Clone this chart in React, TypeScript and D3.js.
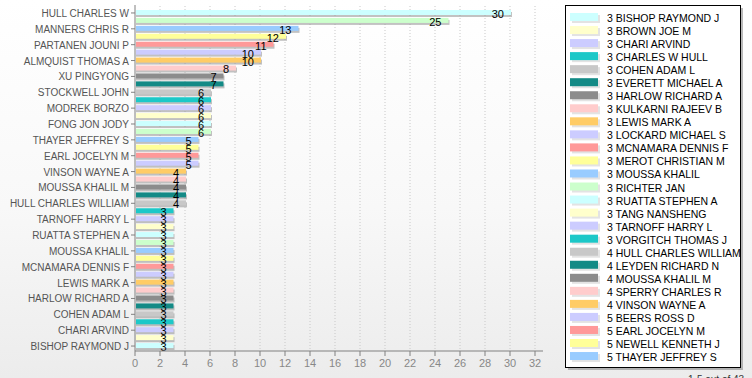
import React from "react";
import * as d3 from "d3";

// bottom-to-top order (legend order)
const names: string[] = [
  "BISHOP RAYMOND J", "BROWN JOE M", "CHARI ARVIND", "CHARLES W HULL", "COHEN ADAM L",
  "EVERETT MICHAEL A", "HARLOW RICHARD A", "KULKARNI RAJEEV B", "LEWIS MARK A", "LOCKARD MICHAEL S",
  "MCNAMARA DENNIS F", "MEROT CHRISTIAN M", "MOUSSA KHALIL", "RICHTER JAN", "RUATTA STEPHEN A",
  "TANG NANSHENG", "TARNOFF HARRY L", "VORGITCH THOMAS J", "HULL CHARLES WILLIAM", "LEYDEN RICHARD N",
  "MOUSSA KHALIL M", "SPERRY CHARLES R", "VINSON WAYNE A", "BEERS ROSS D", "EARL JOCELYN M",
  "NEWELL KENNETH J", "THAYER JEFFREY S", "(unlabeled 28)", "FONG JON JODY", "(unlabeled 30)",
  "MODREK BORZO", "(unlabeled 32)", "STOCKWELL JOHN", "(unlabeled 34)", "XU PINGYONG",
  "(unlabeled 36)", "ALMQUIST THOMAS A", "(unlabeled 38)", "PARTANEN JOUNI P", "(unlabeled 40)",
  "MANNERS CHRIS R", "(unlabeled 42)", "HULL CHARLES W",
];
const values: number[] = [
  3, 3, 3, 3, 3, 3, 3, 3, 3, 3, 3, 3, 3, 3, 3, 3, 3, 3,
  4, 4, 4, 4, 4,
  5, 5, 5, 5,
  6, 6, 6, 6, 6, 6,
  7, 7, 8, 10, 10, 11, 12, 13, 25, 30,
];
const legendCount = 27;
const xTicks: number[] = [0, 2, 4, 6, 8, 10, 12, 14, 16, 18, 20, 22, 24, 26, 28, 30, 32];
const palette: string[] = [
  "#ccffff", "#ffffcc", "#ccccff", "#1cc8c8", "#c8c8c8", "#138a86", "#8c8c8c",
  "#ffcccc", "#ffcc66", "#ccccff", "#ff9999", "#ffff99", "#99ccff", "#ccffcc",
];

const W = 752, H = 378;
const FONT = "'Liberation Sans', Arial, sans-serif";

export default function App() {
  const x = d3.scaleLinear().domain([0, 32.64]).range([135, 543]);
  const y = d3.scaleBand<string>().domain([...names].reverse()).range([9, 350]).padding(0);
  const color = (i: number) => palette[i % palette.length];
  const bw = y.bandwidth();
  const axisY = 351;
  const labeled = names.filter((_, i) => i % 2 === 0);

  return (
    <div style={{ position: "fixed", left: 0, top: 0, width: W, height: H }}>
      <svg width={W} height={H} style={{ display: "block" }}>
        <defs>
          <linearGradient id="bg" x1="0" y1="0" x2="0" y2="1">
            <stop offset="0" stopColor="#ffffff" />
            <stop offset="0.55" stopColor="#f8f8f8" />
            <stop offset="1" stopColor="#ececec" />
          </linearGradient>
        </defs>
        <rect x={0} y={0} width={W} height={H} fill="url(#bg)" />
        {/* grid */}
        {xTicks.filter((t) => t > 0).map((t) => (
          <line key={"g" + t} x1={x(t)} x2={x(t)} y1={6} y2={axisY}
            stroke="#c8c8c8" strokeDasharray="1,2" />
        ))}
        {/* bars */}
        {names.map((n, i) => {
          const yy = (y(n) as number) + 1;
          const w = x(values[i]) - x(0);
          return (
            <g key={"b" + i}>
              <rect x={x(0) + 1} y={yy + 2} width={w + 1} height={5} fill="#9a9a9a" opacity={0.6} />
              <rect x={x(0) + 1} y={yy} width={w} height={5} fill={color(i)} />
            </g>
          );
        })}
        {/* value labels */}
        {names.map((n, i) => (
          <text key={"v" + i} x={x(values[i]) - 6} y={(y(n) as number) + bw / 2 + 5}
            textAnchor="end" fontFamily={FONT} fontSize={11} fill="#000">
            {values[i]}
          </text>
        ))}
        {/* y axis */}
        <line x1={x(0)} x2={x(0)} y1={5} y2={axisY} stroke="#808080" />
        {labeled.map((n) => {
          const cy = (y(n) as number) + bw / 2;
          return (
            <g key={"yl" + n}>
              <line x1={x(0) - 4} x2={x(0)} y1={cy} y2={cy} stroke="#808080" />
              <text x={x(0) - 6} y={cy + 4} textAnchor="end" fontFamily={FONT} fontSize={10} fill="#555">
                {n}
              </text>
            </g>
          );
        })}
        {/* x axis */}
        <line x1={x(0)} x2={543} y1={axisY} y2={axisY} stroke="#808080" />
        {xTicks.map((t) => (
          <g key={"xt" + t}>
            <line x1={x(t)} x2={x(t)} y1={axisY} y2={axisY + 5} stroke="#808080" />
            <text x={x(t)} y={axisY + 16} textAnchor="middle" fontFamily={FONT} fontSize={11} fill="#888">
              {t}
            </text>
          </g>
        ))}
        {/* legend */}
        <rect x={568} y={8} width={175} height={362} fill="#8a8a8a" opacity={0.6} />
        <rect x={565.5} y={5.5} width={175} height={362} fill="#fff" stroke="#000" />
        {names.slice(0, legendCount).map((n, i) => {
          const ly = 18 + i * 13.04;
          return (
            <g key={"lg" + i}>
              <rect x={572} y={ly - 3} width={28} height={8} fill="#c8c8c8" opacity={0.5} />
              <rect x={570} y={ly - 5} width={28} height={8} fill={color(i)} />
              <text x={607} y={ly + 4} fontFamily={FONT} fontSize={10.5} fill="#000">
                {values[i] + " " + n}
              </text>
            </g>
          );
        })}
        <text x={688} y={383} fontFamily={FONT} fontSize={10} fill="#333">1-5 out of 43</text>
      </svg>
    </div>
  );
}
